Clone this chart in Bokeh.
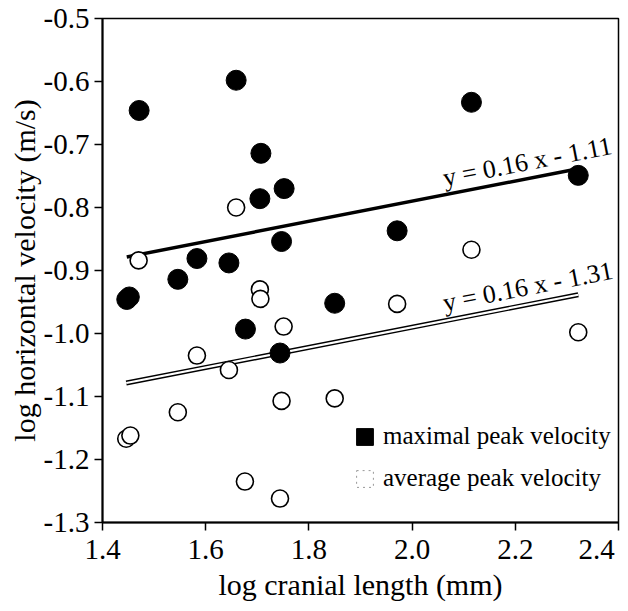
from bokeh.plotting import figure
from bokeh.models import Label, FixedTicker, Legend, LegendItem, Range1d
from bokeh.embed import file_html
from bokeh.resources import INLINE

# maximal peak velocity (filled)
max_x = [1.447, 1.452, 1.471, 1.546, 1.583, 1.645, 1.659, 1.677, 1.705, 1.707,
         1.744, 1.747, 1.752, 1.850, 1.971, 2.115, 2.322]
max_y = [-0.946, -0.942, -0.646, -0.914, -0.881, -0.888, -0.598, -0.993, -0.786, -0.714,
         -1.031, -0.854, -0.770, -0.952, -0.837, -0.633, -0.749]

# average peak velocity (open)
avg_x = [1.446, 1.454, 1.470, 1.546, 1.583, 1.645, 1.659, 1.676, 1.705, 1.706,
         1.744, 1.747, 1.751, 1.850, 1.971, 2.115, 2.322]
avg_y = [-1.167, -1.162, -0.884, -1.125, -1.035, -1.058, -0.800, -1.235, -0.930, -0.945,
         -1.262, -1.107, -0.989, -1.103, -0.953, -0.867, -0.998]

slope = 0.16
icpt_max = -1.11
icpt_avg = -1.31

x_ticks = [1.4, 1.6, 1.8, 2.0, 2.2, 2.4]
x_tick_labels = ["1.4", "1.6", "1.8", "2.0", "2.2", "2.4"]
y_ticks = [-0.5, -0.6, -0.7, -0.8, -0.9, -1.0, -1.1, -1.2, -1.3]
y_tick_labels = ["-0.5", "-0.6", "-0.7", "-0.8", "-0.9", "-1.0", "-1.1", "-1.2", "-1.3"]

FONT = "Liberation Serif"
NAN = float("nan")

p = figure(width=620, height=603, x_range=Range1d(1.4, 2.4), y_range=Range1d(-1.3, -0.5),
           output_backend="svg", toolbar_location=None,
           min_border_left=102, min_border_right=2, min_border_top=18, min_border_bottom=70)
p.grid.visible = False
p.background_fill_color = "white"
p.border_fill_color = "white"
p.outline_line_color = "black"
p.outline_line_width = 1.5

p.xaxis.ticker = FixedTicker(ticks=x_ticks)
p.yaxis.ticker = FixedTicker(ticks=y_ticks)
xo = dict(zip(x_ticks, x_tick_labels))
# keep the last label inside the canvas (shift it left with a trailing thin space)
xo[2.4] = x_tick_labels[-1] + "\u2009"
p.xaxis.major_label_overrides = xo
p.yaxis.major_label_overrides = dict(zip(y_ticks, y_tick_labels))

for ax in (p.xaxis[0], p.yaxis[0]):
    ax.axis_line_width = 2
    ax.axis_line_color = "black"
    ax.major_tick_line_width = 1.5
    ax.major_tick_out = 8
    ax.major_tick_in = 0
    ax.minor_tick_out = 0
    ax.minor_tick_in = 0
    ax.major_label_text_font = FONT
    ax.major_label_text_font_size = "29px"
    ax.major_label_text_color = "black"
    ax.axis_label_text_font = FONT
    ax.axis_label_text_font_size = "30px"
    ax.axis_label_text_font_style = "normal"
    ax.axis_label_text_color = "black"
    ax.axis_label_standoff = 0

p.xaxis.major_label_standoff = 2
p.yaxis.major_label_standoff = 5

p.xaxis.axis_label = "log cranial length (mm)"
p.yaxis.axis_label = "log horizontal velocity (m/s)"

# regression lines
lx = [min(max_x), max(max_x)]
p.line(lx, [slope * v + icpt_max for v in lx], line_color="black", line_width=3.5)
lxa = [min(avg_x), max(avg_x)]
p.line(lxa, [slope * v + icpt_avg for v in lxa], line_color="black", line_width=5)
p.line(lxa, [slope * v + icpt_avg for v in lxa], line_color="white", line_width=2.2)

# points
p.scatter(avg_x, avg_y, size=17, fill_color="white", line_color="black", line_width=1.6)
p.scatter(max_x, max_y, size=20, fill_color="black", line_color="black")

# equations
p.add_layout(Label(x=2.06, y=slope * 2.06 + icpt_max, y_offset=17, text="y = 0.16 x - 1.11",
                   angle=11, angle_units="deg", text_font=FONT, text_font_size="26px",
                   text_color="black", text_baseline="alphabetic"))
p.add_layout(Label(x=2.06, y=slope * 2.06 + icpt_avg, y_offset=18, text="y = 0.16 x - 1.31",
                   angle=11, angle_units="deg", text_font=FONT, text_font_size="26px",
                   text_color="black", text_baseline="alphabetic"))

# legend proxies (no visible data)
r1 = p.quad(left=[NAN], right=[NAN], top=[NAN], bottom=[NAN],
            fill_color="black", line_color="black")
r2 = p.quad(left=[NAN], right=[NAN], top=[NAN], bottom=[NAN],
            fill_color="white", line_color="#999999", line_dash="dotted")
legend = Legend(items=[LegendItem(label="maximal peak velocity", renderers=[r1]),
                       LegendItem(label="average peak velocity", renderers=[r2])],
                location=(252, 30), padding=0, margin=0, spacing=14,
                glyph_width=21, glyph_height=21, label_height=21, label_standoff=8,
                label_text_font=FONT, label_text_font_size="25px", label_text_color="black",
                border_line_color=None, background_fill_alpha=0)
p.add_layout(legend)

open("out.html", "w").write(file_html(p, INLINE))
